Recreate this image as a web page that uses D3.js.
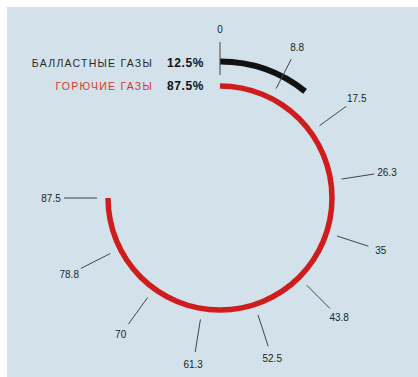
<!DOCTYPE html>
<html>
<head>
<meta charset="utf-8">
<script src="https://cdn.jsdelivr.net/npm/d3@7"></script>
<style>
html,body{margin:0;padding:0;background:#fff;}
svg{display:block;font-family:"Liberation Sans",Arial,sans-serif;}
</style>
</head>
<body>
<svg id="chart" width="418" height="377"></svg>
<script>
const categories = ["БАЛЛАСТНЫЕ ГАЗЫ", "ГОРЮЧИЕ ГАЗЫ"];
const values = [12.5, 87.5];
const valueLabels = ["12.5%", "87.5%"];
const tickValues = [0, 8.8, 17.5, 26.3, 35, 43.8, 52.5, 61.3, 70, 78.8, 87.5];
const tickLabels = ["0", "8.8", "17.5", "26.3", "35", "43.8", "52.5", "61.3", "70", "78.8", "87.5"];
const colors = ["#111111", "#cf1d1d"];
const labelColors = ["#2a2a2a", "#d23a2e"];

const svg = d3.select("#chart");
svg.append("rect").attr("x", 7).attr("y", 7).attr("width", 411).attr("height", 370).attr("fill", "#d3e2ea");

const cx = 220, cy = 198;
const angle = d3.scaleLinear().domain([0, 87.5]).range([0, 1.5 * Math.PI]);
const radii = [136.5, 112];
const widths = [6, 5.5];

const g = svg.append("g").attr("transform", `translate(${cx},${cy})`);

values.forEach((v, i) => {
  const arc = d3.arc()
    .innerRadius(radii[i] - widths[i] / 2)
    .outerRadius(radii[i] + widths[i] / 2)
    .startAngle(angle(0))
    .endAngle(angle(v));
  g.append("path").attr("d", arc()).attr("fill", colors[i]);
});

const rIn = 123, rOut = 156, rLab = 169;
tickValues.forEach((t, i) => {
  const a = angle(t);
  const sx = Math.sin(a), sy = -Math.cos(a);
  g.append("line")
    .attr("x1", sx * rIn).attr("y1", sy * rIn)
    .attr("x2", sx * rOut).attr("y2", sy * rOut)
    .attr("stroke", "#444").attr("stroke-width", 1);
  g.append("text")
    .attr("x", sx * rLab).attr("y", sy * rLab)
    .attr("text-anchor", "middle").attr("dominant-baseline", "central")
    .attr("font-size", 10).attr("fill", "#222")
    .text(tickLabels[i]);
});

const legendY = [63, 86];
categories.forEach((c, i) => {
  svg.append("text")
    .attr("x", 153).attr("y", legendY[i])
    .attr("text-anchor", "end").attr("dominant-baseline", "central")
    .attr("font-size", 10.5).attr("letter-spacing", "1.25px")
    .attr("fill", labelColors[i])
    .text(c);
  svg.append("text")
    .attr("x", 167).attr("y", legendY[i])
    .attr("dominant-baseline", "central")
    .attr("font-size", 12).attr("font-weight", "bold").attr("letter-spacing", "0.6px")
    .attr("fill", "#111")
    .text(valueLabels[i]);
});
</script>
</body>
</html>
